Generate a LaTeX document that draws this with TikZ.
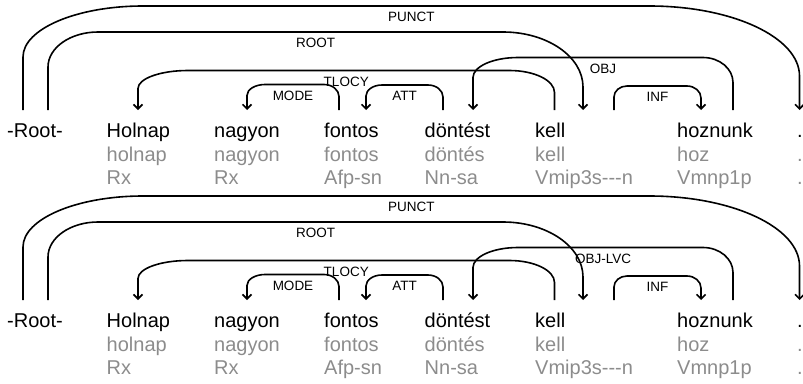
\documentclass[tikz,border=0pt]{standalone}
\usepackage{fontspec}
\setmainfont{Liberation Sans}
\usetikzlibrary{calc,arrows.meta}
\definecolor{lemmagray}{RGB}{140,140,140}
\tikzset{
  word/.style={anchor=base west, inner sep=0pt, font=\fontsize{20}{24}\selectfont},
  lemma/.style={word, text=lemmagray},
  deplabel/.style={inner sep=0pt, font=\fontsize{13.5}{16}\selectfont},
  deparc/.style={line width=1.6pt, -{Straight Barb[length=4.5pt,width=9pt]}},
}
% #1 source coordinate, #2 target coordinate, #3 rise above the endpoints,
% #4/#5 signed width / height of the source corner, #6/#7 of the target corner,
% #8 relation label, #9 label node name
\newcommand\deparc[9]{%
  \draw[deparc] (#1) -- ($(#1)+(0,{-(#3)+(#5)})$)
    .. controls ($(#1)+(0,{-(#3)+0.448*(#5)})$) and ($(#1)+({0.448*(#4)},{-(#3)})$)
    .. ($(#1)+({#4},{-(#3)})$)
    -- ($(#2)+({-(#6)},{-(#3)})$)
    .. controls ($(#2)+({-0.448*(#6)},{-(#3)})$) and ($(#2)+(0,{-(#3)+0.448*(#7)})$)
    .. ($(#2)+(0,{-(#3)+(#7)})$)
    -- (#2);
  \node[deplabel] (#9) at ($(#1)!0.5!(#2)+(0,{-(#3)+11})$) {#8};
}
% single hyphens, kept apart so they do not merge into a dash
\newcommand\hy{\mbox{-}}
% one parsed sentence: words, lemmas, tags and dependency arcs
\newcommand\depsentence[2]{%
  \node[word] (#1-w0) at (7,137) {-Root-};
  \node[word] (#1-w1) at (106.5,137) {Holnap};
  \node[word] (#1-w2) at (214,137) {nagyon};
  \node[word] (#1-w3) at (324,137) {fontos};
  \node[word] (#1-w4) at (424.5,137) {döntést};
  \node[word] (#1-w5) at (535,137) {kell};
  \node[word] (#1-w6) at (677,137) {hoznunk};
  \node[word] (#1-w7) at (797,137) {.};
  \node[lemma] (#1-l1) at (106.5,161) {holnap};
  \node[lemma] (#1-l2) at (214,161) {nagyon};
  \node[lemma] (#1-l3) at (324,161) {fontos};
  \node[lemma] (#1-l4) at (424.5,161) {döntés};
  \node[lemma] (#1-l5) at (535,161) {kell};
  \node[lemma] (#1-l6) at (677,161) {hoz};
  \node[lemma] (#1-l7) at (797,161) {.};
  \node[lemma] (#1-t1) at (106.5,184) {Rx};
  \node[lemma] (#1-t2) at (214,184) {Rx};
  \node[lemma] (#1-t3) at (324,184) {Afp-sn};
  \node[lemma] (#1-t4) at (424.5,184) {Nn-sa};
  \node[lemma] (#1-t5) at (535,184) {Vmip3s\hy\hy\hy n};
  \node[lemma] (#1-t6) at (677,184) {Vmnp1p};
  \node[lemma] (#1-t7) at (797,184) {.};
  % arc attachment points above the words
  \coordinate (#1-root-a) at (23,110);
  \coordinate (#1-root-b) at (48,110);
  \coordinate (#1-holnap-in) at (138,110);
  \coordinate (#1-nagyon-in) at (247,110);
  \coordinate (#1-fontos-out) at (339,110);
  \coordinate (#1-fontos-in) at (366,110);
  \coordinate (#1-dontest-out) at (443,110);
  \coordinate (#1-dontest-in) at (473,110);
  \coordinate (#1-kell-out) at (554.5,110);
  \coordinate (#1-kell-in) at (583,110);
  \coordinate (#1-kell-inf) at (614,110);
  \coordinate (#1-hoz-in) at (701,110);
  \coordinate (#1-hoz-out) at (733,110);
  \coordinate (#1-dot-in) at (799.5,110);
  \deparc{#1-root-a}{#1-dot-in}{104}{120}{51}{150}{70}{PUNCT}{#1-punct}
  \deparc{#1-root-b}{#1-kell-in}{78}{50}{35}{80}{55}{ROOT}{#1-root}
  \deparc{#1-kell-out}{#1-holnap-in}{39.5}{-45}{22}{-50}{18}{TLOCY}{#1-tlocy}
  \deparc{#1-fontos-out}{#1-nagyon-in}{25.5}{-15}{12}{-18}{11}{MODE}{#1-mode}
  \deparc{#1-dontest-out}{#1-fontos-in}{25}{-15}{12}{-16}{11}{ATT}{#1-att}
  \deparc{#1-hoz-out}{#1-dontest-in}{52.5}{-30}{25}{-45}{20}{#2}{#1-obj}
  \deparc{#1-kell-inf}{#1-hoz-in}{24}{13}{11}{14}{12}{INF}{#1-inf}
}
\begin{document}
\begin{tikzpicture}[x=1pt,y=-1pt]
  \useasboundingbox (0,0) rectangle (803,383);
  \begin{scope}
    \depsentence{a}{OBJ}
  \end{scope}
  \begin{scope}[shift={(0,190)}]
    \depsentence{b}{OBJ-LVC}
  \end{scope}
\end{tikzpicture}
\end{document}
